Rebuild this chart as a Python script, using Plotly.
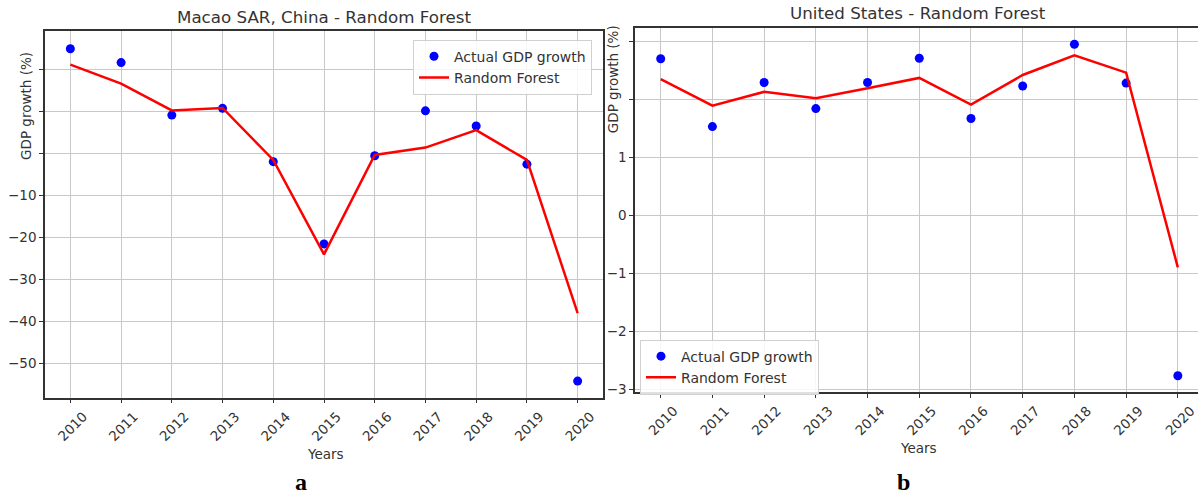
import plotly.graph_objects as go

years = [2010, 2011, 2012, 2013, 2014, 2015, 2016, 2017, 2018, 2019, 2020]

macao_actual = [24.9, 21.6, 9.1, 10.7, -2.0, -21.6, -0.6, 10.1, 6.5, -2.6, -54.3]
macao_rf = [21.1, 16.6, 10.2, 10.8, -1.6, -24.1, -0.4, 1.35, 5.5, -1.6, -38.1]

us_actual = [2.70, 1.53, 2.29, 1.84, 2.29, 2.71, 1.67, 2.23, 2.95, 2.28, -2.77]
us_rf = [2.35, 1.89, 2.13, 2.02, 2.19, 2.37, 1.91, 2.42, 2.76, 2.46, -0.90]

macao_yticks = [20, 10, 0, -10, -20, -30, -40, -50]
macao_yticktext = ["", "", "", "−10", "−20", "−30", "−40", "−50"]
us_yticks = [3, 2, 1, 0, -1, -2, -3]
us_yticktext = ["", "", "1", "0", "−1", "−2", "−3"]

titles = ["Macao SAR, China - Random Forest", "United States - Random Forest"]
panel_labels = ["a", "b"]

FONT = "DejaVu Sans"
TXT = "#333333"
GRID = "#c8c8c8"
AX = "#333333"
TS = 13.5

fig = go.Figure()

fig.add_trace(go.Scatter(x=years, y=macao_actual, mode="markers", name="Actual GDP growth",
                         marker=dict(color="#0000ff", size=9), xaxis="x", yaxis="y", legend="legend"))
fig.add_trace(go.Scatter(x=years, y=macao_rf, mode="lines", name="Random Forest",
                         line=dict(color="#ff0000", width=2.5), xaxis="x", yaxis="y", legend="legend"))
fig.add_trace(go.Scatter(x=years, y=us_actual, mode="markers", name="Actual GDP growth",
                         marker=dict(color="#0000ff", size=9), xaxis="x2", yaxis="y2", legend="legend2"))
fig.add_trace(go.Scatter(x=years, y=us_rf, mode="lines", name="Random Forest",
                         line=dict(color="#ff0000", width=2.5), xaxis="x2", yaxis="y2", legend="legend2"))

W, H = 1198, 497

def px(x):
    return x / W

def py(y):
    return (H - y) / H

xcommon = dict(tickmode="array", tickvals=years, ticktext=[str(y) for y in years],
               tickangle=-45, ticks="outside", ticklen=4, tickcolor=AX, tickwidth=1,
               showgrid=True, gridcolor=GRID, gridwidth=1.2, zeroline=False,
               showline=True, linecolor=AX, linewidth=1.5, mirror=True,
               tickfont=dict(family=FONT, size=TS, color=TXT), ticklabelshift=13,
               ticklabeloverflow="allow")
ycommon = dict(ticks="outside", ticklen=4, tickcolor=AX, tickwidth=1,
               showgrid=True, gridcolor=GRID, gridwidth=1.2, zeroline=False,
               showline=True, linecolor=AX, linewidth=1.5,
               tickfont=dict(family=FONT, size=TS, color=TXT), tickmode="array")

fig.update_layout(
    width=W, height=H, autosize=False,
    margin=dict(l=0, r=0, t=0, b=0),
    paper_bgcolor="white", plot_bgcolor="white",
    font=dict(family=FONT, color=TXT),
    xaxis=dict(domain=[px(45), px(603)], range=[2009.5, 2020.5], anchor="y", **xcommon),
    yaxis=dict(domain=[py(401.7), py(31.7)], range=[-58.24, 29.04], anchor="x",
               tickvals=macao_yticks, ticktext=macao_yticktext, mirror=True, **ycommon),
    xaxis2=dict(domain=[px(635), 1.0], range=[2009.503, 2020.39], anchor="y2", **xcommon),
    yaxis2=dict(domain=[py(396), py(28)], range=[-3.05, 3.236], anchor="x2",
                tickvals=us_yticks, ticktext=us_yticktext, mirror=False, **ycommon),
    legend=dict(x=px(413), y=py(40), xanchor="left", yanchor="top",
                bgcolor="rgba(255,255,255,0.85)", bordercolor="#d0d0d0", borderwidth=1,
                font=dict(family=FONT, size=14, color=TXT), tracegroupgap=0),
    legend2=dict(x=px(640), y=py(343), xanchor="left", yanchor="top",
                 bgcolor="rgba(255,255,255,0.85)", bordercolor="#d0d0d0", borderwidth=1,
                 font=dict(family=FONT, size=14, color=TXT), tracegroupgap=0),
    showlegend=True,
)

def note(text, x, y, size, family=FONT, color=TXT, angle=0):
    return dict(text=text, x=px(x), y=py(y), xref="paper", yref="paper",
                xanchor="center", yanchor="middle", textangle=angle,
                showarrow=False, font=dict(family=family, size=size, color=color))

ann = [
    note(titles[0], 324, 17, 16.7),
    note(titles[1], 918, 13, 16.7),
    note("GDP growth (%)", 26, 107, TS, angle=-90),
    note("GDP growth (%)", 613, 80, TS, angle=-90),
    note("Years", 325, 459, TS),
    note("Years", 918, 453, TS),
    note("<b>" + panel_labels[0] + "</b>", 301, 487, 24, family="Liberation Serif", color="black"),
    note("<b>" + panel_labels[1] + "</b>", 903, 487, 24, family="Liberation Serif", color="black"),
]
fig.update_layout(annotations=ann)

fig.write_html("out.html")
